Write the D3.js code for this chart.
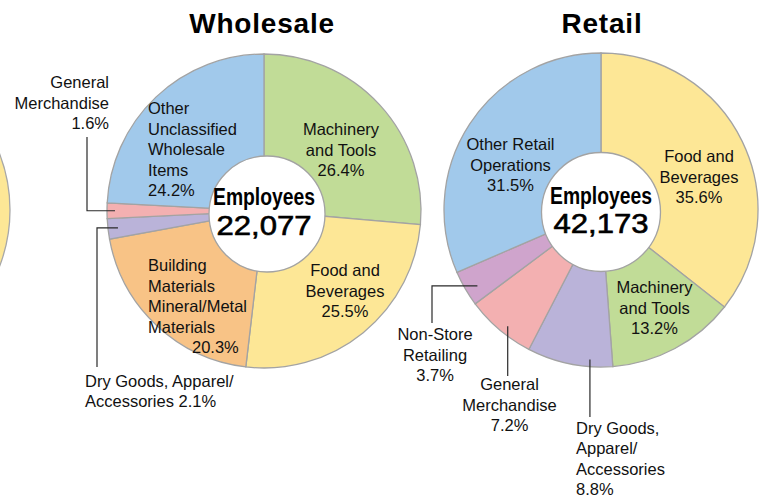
<!DOCTYPE html>
<html>
<head>
<meta charset="utf-8">
<script src="https://cdn.jsdelivr.net/npm/d3@7"></script>
<style>
  body { margin: 0; background: #fff; }
  svg { display: block; font-family: 'Liberation Sans', Arial, Helvetica, sans-serif; }
</style>
</head>
<body>
<script>
// data
const panelTitles = ['Wholesale', 'Retail']
const employeeTotals = [22077, 42173]

const wholesaleCategories = ['Machinery and Tools', 'Food and Beverages', 'Building Materials Mineral/Metal Materials',
  'Dry Goods, Apparel/Accessories', 'General Merchandise', 'Other Unclassified Wholesale Items']
const wholesaleShares = [26.4, 25.5, 20.3, 2.1, 1.6, 24.2]

const retailCategories = ['Food and Beverages', 'Machinery and Tools', 'Dry Goods, Apparel/Accessories',
  'General Merchandise', 'Non-Store Retailing', 'Other Retail Operations']
const retailShares = [35.6, 13.2, 8.8, 7.2, 3.7, 31.5]

const width = 763
const height = 497
const R = 157

// 颜色
const color = d3.scaleOrdinal()
  .domain(['Machinery and Tools', 'Food and Beverages', 'Building Materials Mineral/Metal Materials',
    'Dry Goods, Apparel/Accessories', 'General Merchandise', 'Other Unclassified Wholesale Items',
    'Non-Store Retailing', 'Other Retail Operations'])
  .range(['#c1dc97', '#fde796', '#f8c386', '#bab3d9', '#f3b0b1', '#a1c9eb', '#cfa4cc', '#a1c9eb'])

// label layout (offsets from pie centre), lines = text before the share
const wholesaleLabels = [
  { lines: ['Machinery', 'and Tools'], dx: 77, dy: -76, anchor: 'middle' },
  { lines: ['Food and', 'Beverages'], dx: 81, dy: 65, anchor: 'middle' },
  { lines: ['Building', 'Materials', 'Mineral/Metal', 'Materials'], dx: -116, dy: 60, anchor: 'start', shareDx: 44 },
  { lines: ['Dry Goods, Apparel/', 'Accessories'], dx: -179, dy: 175.5, anchor: 'start', inline: true },
  { lines: ['General', 'Merchandise'], dx: -155, dy: -123, anchor: 'end' },
  { lines: ['Other', 'Unclassified', 'Wholesale', 'Items'], dx: -116, dy: -97, anchor: 'start' }
]
const retailLabels = [
  { lines: ['Food and', 'Beverages'], dx: 98, dy: -48, anchor: 'middle' },
  { lines: ['Machinery', 'and Tools'], dx: 53.5, dy: 83, anchor: 'middle' },
  { lines: ['Dry Goods,', 'Apparel/', 'Accessories'], dx: -25, dy: 223.5, anchor: 'start' },
  { lines: ['General', 'Merchandise'], dx: -91.5, dy: 180, anchor: 'middle' },
  { lines: ['Non-Store', 'Retailing'], dx: -166, dy: 130, anchor: 'middle' },
  { lines: ['Other Retail', 'Operations'], dx: -90.5, dy: -60, anchor: 'middle' }
]

// leader lines: slice index, position inside slice, elbow x / end y
const wholesaleLeaders = [
  { i: 4, f: 0.5, inset: 8, elbowDx: -177, endDy: -74 },
  { i: 3, f: 0.5, inset: 10, elbowDx: -167, endDy: 156 }
]
const retailLeaders = [
  { i: 4, f: 0.39, inset: 12, elbowDx: -169, endDy: 113 },
  { i: 3, f: 0.44, inset: 8, endDy: 166 },
  { i: 2, f: 0.27, inset: 7, endDy: 207 }
]

const panels = [
  { cx: 264, cy: 211, cats: wholesaleCategories, vals: wholesaleShares, labels: wholesaleLabels,
    leaders: wholesaleLeaders, hole: { dx: 3, dy: 3, r: 58 }, titleDx: -2 },
  { cx: 601, cy: 210, cats: retailCategories, vals: retailShares, labels: retailLabels,
    leaders: retailLeaders, hole: { dx: 0, dy: 2, r: 59.5 }, titleDx: 1 }
]

const svg = d3.select('body')
  .append('svg')
  .attr('width', width)
  .attr('height', height)

// 左侧被截掉的上一张图
svg.append('circle')
  .attr('cx', 10 - R)
  .attr('cy', 210)
  .attr('r', R)
  .attr('fill', '#fde796')
  .attr('stroke', '#a8a8a8')
  .attr('stroke-width', 1.3)

const pie = d3.pie().sort(null).value(d => d)
const arc = d3.arc().innerRadius(0).outerRadius(R)
const fmtShare = v => d3.format('.1f')(v) + '%'
const lineH = 20.5

panels.forEach((p, k) => {
  const g = svg.append('g').attr('transform', `translate(${p.cx},${p.cy})`)
  const arcs = pie(p.vals)

  g.selectAll('path.slice')
    .data(arcs)
    .enter()
    .append('path')
    .attr('class', 'slice')
    .attr('d', arc)
    .attr('fill', (d, i) => color(p.cats[i]))
    .attr('stroke', '#a3a3a3')
    .attr('stroke-width', 1.3)

  // 引线
  p.leaders.forEach(l => {
    const a = arcs[l.i]
    const ang = a.startAngle + l.f * (a.endAngle - a.startAngle)
    const r = R - l.inset
    const x0 = r * Math.sin(ang)
    const y0 = -r * Math.cos(ang)
    const path = d3.path()
    path.moveTo(x0, y0)
    if (l.elbowDx !== undefined) {
      path.lineTo(l.elbowDx, y0)
      path.lineTo(l.elbowDx, l.endDy)
    } else {
      path.lineTo(x0, l.endDy)
    }
    g.append('path')
      .attr('d', path.toString())
      .attr('fill', 'none')
      .attr('stroke', '#2a2a2a')
      .attr('stroke-width', 1.2)
  })

  // labels
  p.labels.forEach((lb, i) => {
    const t = g.append('text')
      .attr('x', lb.dx)
      .attr('y', lb.dy)
      .attr('text-anchor', lb.anchor)
      .attr('font-size', 16.5)
      .attr('fill', '#111')
    const lines = lb.lines.slice()
    if (lb.inline) {
      lines[lines.length - 1] += ' ' + fmtShare(p.vals[i])
    } else {
      lines.push(fmtShare(p.vals[i]))
    }
    lines.forEach((s, j) => {
      t.append('tspan')
        .attr('x', lb.dx + (j === lines.length - 1 && lb.shareDx ? lb.shareDx : 0))
        .attr('y', lb.dy + j * lineH)
        .text(s)
    })
  })

  // centre hole
  g.append('circle')
    .attr('cx', p.hole.dx)
    .attr('cy', p.hole.dy)
    .attr('r', p.hole.r)
    .attr('fill', '#fff')
    .attr('stroke', '#a3a3a3')
    .attr('stroke-width', 1.3)

  g.append('text')
    .attr('x', 0)
    .attr('y', -6)
    .attr('text-anchor', 'middle')
    .attr('font-size', 23.5)
    .attr('font-weight', 'bold')
    .attr('textLength', 102)
    .attr('lengthAdjust', 'spacingAndGlyphs')
    .text('Employees')

  g.append('text')
    .attr('x', 0)
    .attr('y', 24 - k)
    .attr('text-anchor', 'middle')
    .attr('font-size', 27)
    .attr('textLength', 95)
    .attr('lengthAdjust', 'spacingAndGlyphs')
    .attr('stroke', '#000')
    .attr('stroke-width', 0.6)
    .text(d3.format(',')(employeeTotals[k]))

  svg.append('text')
    .attr('x', p.cx + p.titleDx)
    .attr('y', 33)
    .attr('text-anchor', 'middle')
    .attr('font-size', 28)
    .attr('font-weight', 'bold')
    .attr('letter-spacing', 0.8)
    .text(panelTitles[k])
})
</script>
</body>
</html>
